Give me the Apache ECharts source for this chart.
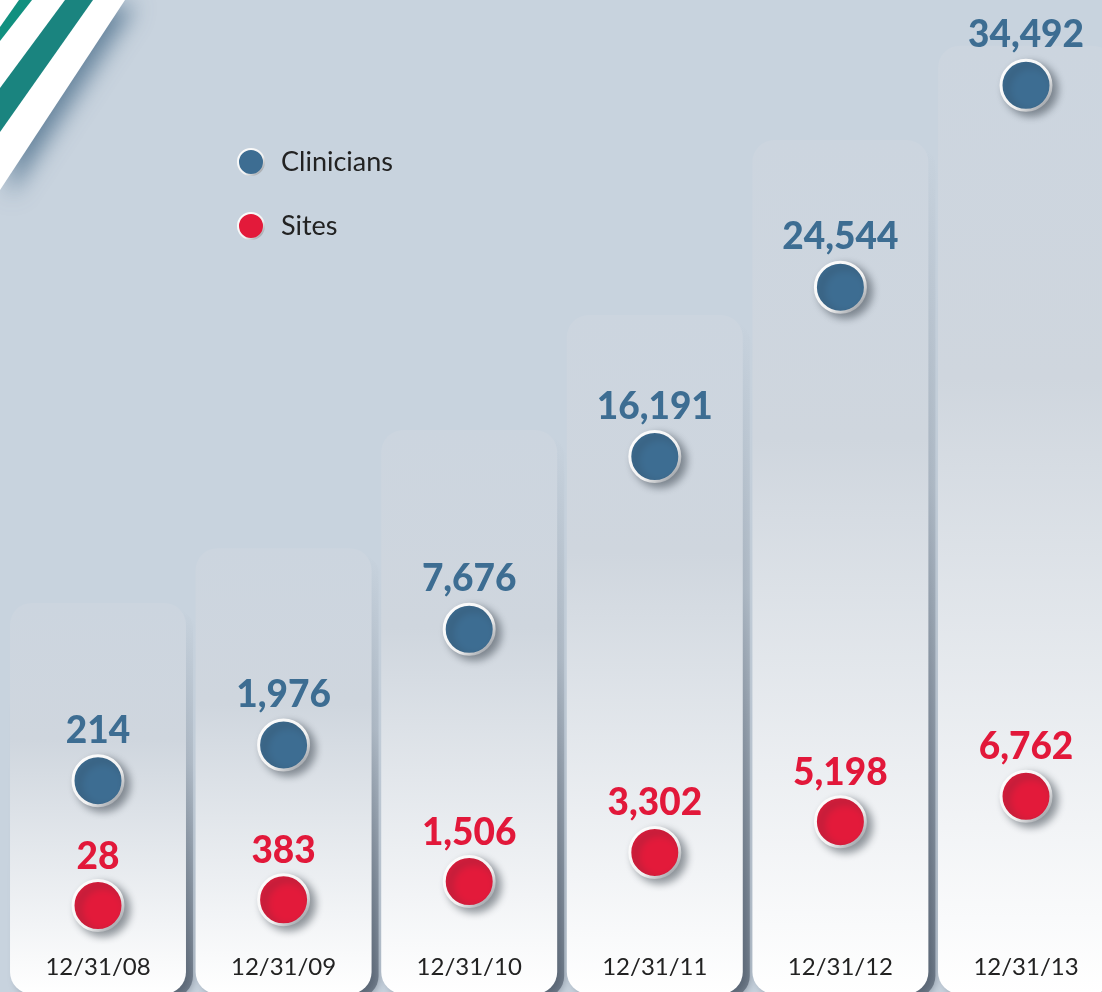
<!DOCTYPE html>
<html>
<head>
<meta charset="utf-8">
<script src="https://cdn.jsdelivr.net/npm/echarts@6/dist/echarts.min.js"></script>
<style>
  html, body { margin: 0; padding: 0; background: #c8d3de; }
  #chart { width: 1102px; height: 992px; }
</style>
</head>
<body>
<div id="chart"></div>
<script>
// data
const dates = ["12/31/08", "12/31/09", "12/31/10", "12/31/11", "12/31/12", "12/31/13"]
const clinicians = [214, 1976, 7676, 16191, 24544, 34492]
const sites = [28, 383, 1506, 3302, 5198, 6762]
// height of the white panels behind each date, in clinician-axis units
const panelTop = [8980, 11680, 17500, 23170, 31800, 36450]

const BLUE_MIN = -10200, BLUE_MAX = 38700
const RED_MIN = -5300, RED_MAX = 55850

const chart = echarts.init(document.getElementById("chart"))

const dotStyle = (color, dark) => ({
  opacity: 1,
  color: new echarts.graphic.RadialGradient(0.45, 0.4, 0.65, [
    { offset: 0, color: color },
    { offset: 0.82, color: color },
    { offset: 1, color: dark }
  ]),
  borderColor: new echarts.graphic.LinearGradient(0, 0, 1, 1, [
    { offset: 0, color: "#ffffff" },
    { offset: 0.6, color: "#f2f2f2" },
    { offset: 1, color: "#7d838b" }
  ]),
  borderWidth: 3,
  shadowColor: "rgba(40,50,60,0.5)",
  shadowBlur: 8,
  shadowOffsetX: 5,
  shadowOffsetY: 4
})

const labelFont = {
  fontFamily: "Lato",
  fontWeight: 900,
  fontSize: 37,
  opacity: 1
}

const option = {
  backgroundColor: "#c8d3de",
  animation: false,
  graphic: [
    {
      type: "polygon",
      z: 0,
      shape: { points: [[0, 0], [125, 0], [0, 190]] },
      style: {
        fill: "#ffffff",
        shadowColor: "rgba(70,105,135,0.75)",
        shadowBlur: 22,
        shadowOffsetX: 10,
        shadowOffsetY: 6
      }
    },
    {
      type: "polygon",
      z: 1,
      shape: { points: [[19, 0], [32, 0], [0, 41], [0, 27]] },
      style: { fill: "#11907f" }
    },
    {
      type: "polygon",
      z: 1,
      shape: { points: [[65, 0], [93, 0], [0, 132], [0, 88]] },
      style: { fill: "#1a847f" }
    }
  ],
  legend: {
    data: ["Clinicians", "Sites"],
    orient: "vertical",
    left: 232,
    top: 143,
    itemWidth: 26,
    itemHeight: 26,
    itemGap: 36,
    icon: "circle",
    textStyle: {
      fontFamily: "Lato",
      fontSize: 27,
      color: "#222222",
      padding: [0, 0, 0, 12]
    }
  },
  grid: {
    left: 5.2,
    width: 1113.6,
    top: 0,
    bottom: 0,
    outerBoundsMode: "none"
  },
  xAxis: {
    type: "category",
    data: dates,
    axisLine: { show: false },
    axisTick: { show: false },
    axisLabel: {
      inside: true,
      margin: 13,
      fontFamily: "Lato",
      fontSize: 24,
      color: "#222222"
    },
    z: 10
  },
  yAxis: [
    { type: "value", min: BLUE_MIN, max: BLUE_MAX, show: false },
    { type: "value", min: RED_MIN, max: RED_MAX, show: false }
  ],
  series: [
    {
      name: "panels",
      type: "custom",
      yAxisIndex: 0,
      z: 1,
      data: panelTop.map((v, i) => [i, v]),
      renderItem: (params, api) => {
        const top = api.coord([api.value(0), api.value(1)])
        const bottom = api.coord([api.value(0), BLUE_MIN])
        const w = api.size([1, 0])[0] * 0.948
        const h = bottom[1] - top[1] + 2
        return {
          type: "group",
          children: [
            {
              // soft shadow that grows darker toward the bottom
              type: "rect",
              shape: { x: top[0] - w / 2 + 7, y: top[1] + 4, width: w, height: h, r: 22 },
              style: {
                fill: new echarts.graphic.LinearGradient(0, 0, 0, 1, [
                  { offset: 0, color: "rgba(60,72,88,0)" },
                  { offset: 0.4, color: "rgba(60,72,88,0.12)" },
                  { offset: 1, color: "rgba(60,72,88,0.55)" }
                ]),
                shadowColor: "rgba(60,72,88,1)",
                shadowBlur: 10
              }
            },
            {
              type: "rect",
              shape: { x: top[0] - w / 2, y: top[1], width: w, height: h, r: 22 },
              style: {
                fill: new echarts.graphic.LinearGradient(0, 0, 0, 1, [
                  { offset: 0, color: "#ccd5df" },
                  { offset: 0.35, color: "#cfd6de" },
                  { offset: 1, color: "#ffffff" }
                ])
              }
            }
          ]
        }
      }
    },
    {
      name: "Clinicians",
      type: "scatter",
      yAxisIndex: 0,
      z: 5,
      symbolSize: 50,
      data: clinicians,
      itemStyle: dotStyle("#3d6d92", "#2b5576"),
      emphasis: { disabled: true },
      label: {
        show: true,
        position: "top",
        distance: 5,
        color: "#3d6d92",
        formatter: (p) => p.value.toLocaleString("en-US"),
        ...labelFont
      }
    },
    {
      name: "Sites",
      type: "scatter",
      yAxisIndex: 1,
      z: 5,
      symbolSize: 50,
      data: sites,
      itemStyle: dotStyle("#e31a3a", "#b5122b"),
      emphasis: { disabled: true },
      label: {
        show: true,
        position: "top",
        distance: 4,
        color: "#e2183a",
        formatter: (p) => p.value.toLocaleString("en-US"),
        ...labelFont
      }
    }
  ]
}

chart.setOption(option)
window.addEventListener("resize", () => chart.resize())
</script>
</body>
</html>
